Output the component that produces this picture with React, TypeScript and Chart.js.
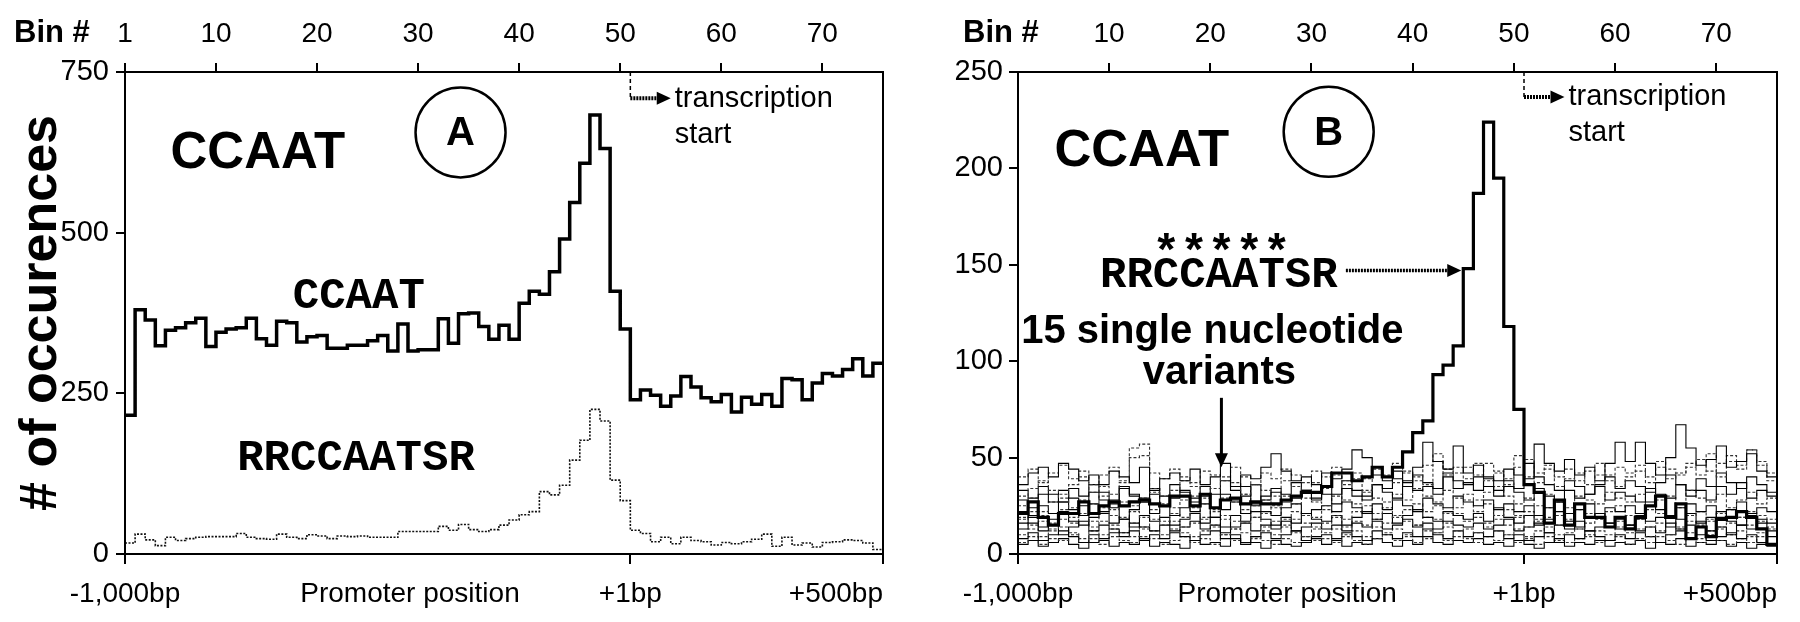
import { useEffect, useRef } from "react"
import { Chart, registerables } from "chart.js"

Chart.register(...registerables)

const SANS = '"Liberation Sans", Arial, sans-serif'
const MONO = '"Liberation Mono", "Courier New", monospace'

// 75 bins of 20 bp: -1,000bp .. +500bp (bin 51 starts at +1bp)
const BIN_COUNT = 75
const TOP_LABELS_A = [1, 10, 20, 30, 40, 50, 60, 70]
const TOP_LABELS_B = [10, 20, 30, 40, 50, 60, 70]
// first entry is an empty placeholder so "inner" alignment only right-aligns "+500bp"
const BOTTOM_LABELS = ["", "-1,000bp", "Promoter position", "+1bp", "+500bp"]
const BOTTOM_TICKS_A = [0, 0, 28.2, 50, 75]
const BOTTOM_TICKS_B = [0, 0, 26.6, 50, 75]
const Y_TICKS_A = [0, 250, 500, 750]
const Y_TICKS_B = [0, 50, 100, 150, 200, 250]

// panel A
const ccaatA = [
  216, 380, 364, 324, 348, 352, 360, 367, 323, 345, 350, 352, 367, 335, 325,
  362, 360, 330, 338, 340, 320, 320, 325, 325, 332, 340, 316, 358, 316, 318,
  318, 366, 328, 374, 375, 354, 334, 356, 334, 390, 409, 404, 439, 490, 547,
  608, 683, 631, 409, 350, 240, 255, 247, 230, 246, 276, 260, 243, 237, 248,
  221, 244, 233, 248, 230, 273, 271, 240, 266, 281, 277, 287, 304, 277, 297,
]
const rrccaatsrA = [
  17, 31, 22, 13, 26, 21, 24, 26, 27, 27, 27, 32, 26, 24, 23,
  31, 26, 24, 30, 28, 24, 28, 27, 28, 26, 26, 26, 35, 35, 35,
  35, 43, 37, 46, 38, 35, 38, 45, 53, 61, 66, 97, 92, 107, 146,
  177, 225, 207, 115, 83, 37, 32, 19, 26, 16, 26, 21, 19, 14, 18,
  16, 19, 23, 31, 12, 26, 14, 17, 11, 18, 19, 22, 21, 17, 7,
]

// panel B
const rrccaatsrB = [
  21, 27, 19, 15, 21, 21, 27, 21, 25, 27, 25, 27, 28, 26, 25,
  30, 30, 25, 31, 24, 28, 29, 26, 27, 26, 26, 28, 30, 32, 32,
  35, 42, 42, 38, 40, 45, 40, 45, 53, 63, 69, 93, 98, 108, 148,
  187, 224, 195, 118, 75, 36, 32, 16, 28, 15, 26, 19, 19, 14, 19,
  13, 19, 25, 30, 19, 26, 8, 14, 9, 18, 19, 22, 19, 13, 5,
]
const variant01 = [
  36, 42, 45, 40, 47, 44, 38, 41, 36, 43, 40, 37, 45, 33, 39,
  42, 38, 44, 36, 40, 47, 35, 41, 39, 45, 52, 43, 38, 40, 36,
  42, 39, 44, 54, 50, 41, 38, 43, 37, 45, 58, 48, 44, 56, 42,
  46, 40, 38, 44, 41, 39, 57, 47, 43, 49, 41, 45, 38, 47, 58,
  48, 58, 47, 41, 50, 67, 55, 46, 49, 56, 45, 48, 52, 43, 40,
]
const variant02 = [
  30, 34, 38, 33, 29, 36, 40, 32, 35, 31, 37, 50, 51, 34, 30,
  33, 38, 35, 29, 34, 40, 37, 31, 36, 33, 30, 38, 35, 32, 37,
  34, 41, 36, 39, 33, 45, 40, 37, 42, 38, 36, 48, 41, 45, 39,
  47, 38, 42, 36, 51, 40, 37, 44, 35, 39, 42, 36, 41, 38, 35,
  40, 43, 37, 45, 39, 42, 47, 41, 52, 40, 48, 44, 54, 46, 38,
]
const variant03 = [
  28, 24, 31, 27, 33, 29, 25, 32, 28, 26, 34, 30, 27, 31, 25,
  29, 33, 27, 30, 24, 31, 28, 35, 26, 30, 32, 27, 29, 33, 28,
  31, 26, 34, 30, 28, 36, 32, 29, 38, 33, 35, 31, 40, 34, 37,
  33, 39, 30, 35, 32, 28, 34, 30, 27, 33, 29, 31, 35, 28, 32,
  30, 27, 34, 31, 29, 36, 30, 33, 28, 35, 31, 37, 29, 33, 30,
]
const variant04 = [
  25, 29, 22, 27, 31, 24, 28, 26, 30, 23, 27, 25, 29, 32, 26,
  24, 28, 30, 26, 23, 29, 27, 31, 25, 28, 24, 30, 26, 29, 27,
  25, 30, 28, 26, 32, 29, 27, 31, 28, 34, 30, 27, 33, 29, 31,
  28, 32, 35, 30, 26, 29, 25, 31, 27, 24, 30, 28, 26, 32, 29,
  27, 31, 25, 28, 30, 26, 33, 29, 27, 31, 24, 28, 32, 26, 29,
]
const variant05 = [
  22, 19, 25, 21, 27, 23, 20, 26, 22, 24, 18, 23, 27, 21, 25,
  20, 24, 22, 26, 19, 23, 27, 21, 25, 22, 20, 24, 26, 21, 23,
  25, 22, 27, 24, 21, 26, 23, 28, 25, 22, 29, 26, 24, 30, 27,
  25, 28, 23, 26, 22, 25, 20, 24, 27, 21, 23, 26, 19, 24, 22,
  25, 21, 27, 23, 20, 24, 26, 22, 25, 19, 23, 27, 21, 24, 22,
]
const variant06 = [
  18, 22, 20, 16, 23, 19, 21, 17, 24, 20, 18, 22, 19, 23, 17,
  21, 19, 24, 18, 22, 20, 17, 23, 19, 21, 25, 18, 22, 20, 19,
  23, 20, 18, 22, 25, 21, 24, 19, 23, 26, 22, 25, 21, 24, 28,
  22, 26, 20, 23, 19, 22, 18, 24, 20, 17, 23, 21, 19, 22, 25,
  20, 18, 23, 21, 19, 24, 20, 22, 17, 21, 23, 19, 22, 20, 18,
]
const variant07 = [
  16, 20, 14, 18, 22, 17, 15, 19, 21, 16, 18, 14, 20, 17, 19,
  15, 18, 21, 16, 19, 14, 20, 17, 22, 18, 15, 19, 16, 21, 18,
  17, 20, 15, 19, 22, 18, 21, 16, 20, 23, 19, 17, 22, 20, 18,
  21, 17, 24, 19, 16, 20, 15, 18, 22, 17, 14, 19, 21, 16, 18,
  15, 20, 17, 19, 14, 18, 21, 16, 19, 22, 17, 15, 20, 18, 16,
]
const variant08 = [
  19, 15, 17, 13, 18, 16, 20, 14, 17, 15, 19, 16, 13, 18, 15,
  17, 14, 16, 19, 15, 18, 13, 16, 19, 14, 17, 15, 18, 16, 14,
  16, 19, 14, 17, 15, 18, 16, 20, 17, 15, 19, 18, 16, 21, 17,
  19, 16, 18, 15, 20, 14, 17, 19, 15, 18, 13, 16, 18, 14, 17,
  15, 18, 14, 16, 19, 13, 17, 15, 18, 14, 16, 19, 15, 17, 14,
]
const variant09 = [
  13, 16, 12, 15, 10, 14, 17, 12, 15, 13, 11, 16, 14, 12, 15,
  12, 14, 17, 13, 15, 11, 14, 16, 12, 15, 13, 17, 12, 14, 16,
  13, 15, 12, 16, 14, 17, 13, 15, 18, 14, 16, 13, 17, 15, 14,
  16, 13, 15, 18, 12, 14, 16, 11, 15, 13, 17, 12, 14, 16, 13,
  15, 12, 14, 11, 16, 13, 15, 17, 12, 14, 10, 15, 13, 16, 12,
]
const variant10 = [
  10, 13, 9, 12, 14, 11, 8, 12, 10, 13, 11, 9, 14, 12, 10,
  13, 11, 9, 12, 14, 10, 13, 11, 8, 12, 10, 14, 11, 9, 13,
  11, 13, 10, 12, 9, 14, 11, 13, 10, 15, 12, 11, 14, 12, 13,
  11, 14, 12, 10, 13, 9, 12, 14, 10, 11, 13, 9, 12, 10, 14,
  11, 13, 9, 12, 10, 14, 11, 8, 12, 13, 10, 12, 9, 11, 13,
]
const variant11 = [
  8, 11, 7, 10, 12, 9, 6, 10, 8, 11, 9, 12, 7, 10, 8,
  11, 9, 7, 10, 12, 8, 10, 6, 9, 11, 8, 10, 12, 7, 9,
  10, 8, 11, 9, 7, 12, 10, 8, 11, 9, 13, 10, 8, 12, 9,
  11, 9, 12, 8, 10, 7, 9, 11, 6, 10, 8, 12, 9, 7, 10,
  8, 11, 9, 6, 10, 12, 8, 10, 7, 9, 11, 8, 10, 6, 9,
]
const variant12 = [
  6, 9, 5, 8, 7, 10, 6, 8, 5, 9, 7, 6, 9, 8, 5,
  7, 9, 6, 8, 5, 10, 7, 6, 9, 7, 5, 8, 6, 9, 7,
  8, 6, 9, 7, 5, 8, 10, 7, 9, 6, 8, 11, 7, 9, 8,
  6, 9, 7, 10, 6, 8, 5, 9, 7, 6, 8, 10, 6, 7, 9,
  5, 8, 6, 9, 7, 5, 8, 6, 10, 7, 5, 8, 6, 9, 5,
]
const variant13 = [
  5, 7, 4, 6, 8, 5, 3, 6, 7, 4, 6, 5, 8, 4, 6,
  5, 3, 7, 5, 6, 4, 8, 5, 6, 3, 7, 5, 4, 6, 8,
  5, 7, 4, 6, 5, 8, 6, 4, 7, 5, 9, 6, 5, 7, 6,
  8, 5, 6, 4, 7, 5, 3, 6, 8, 4, 6, 5, 7, 4, 6,
  5, 7, 3, 6, 5, 8, 4, 6, 5, 7, 4, 6, 3, 5, 4,
]
const variant14 = [
  40, 44, 37, 42, 46, 39, 43, 36, 41, 45, 38, 55, 57, 42, 39,
  44, 40, 37, 43, 41, 38, 45, 40, 36, 42, 39, 44, 41, 37, 43,
  40, 45, 38, 42, 39, 44, 41, 47, 43, 40, 46, 52, 44, 42, 45,
  41, 47, 43, 39, 45, 49, 42, 46, 40, 44, 38, 43, 47, 41, 45,
  42, 46, 40, 48, 44, 41, 45, 49, 43, 47, 51, 46, 54, 48, 42,
]
const variant15 = [
  33, 29, 35, 31, 27, 34, 30, 36, 32, 28, 35, 31, 29, 34, 30,
  36, 32, 29, 35, 31, 38, 33, 30, 36, 28, 34, 31, 37, 33, 29,
  35, 31, 38, 33, 30, 36, 34, 39, 35, 41, 37, 34, 42, 38, 36,
  40, 35, 33, 38, 34, 47, 40, 36, 33, 38, 35, 31, 36, 40, 34,
  38, 35, 32, 37, 41, 36, 33, 39, 35, 42, 37, 34, 40, 36, 32,
]
const VARIANTS = [
  variant01, variant02, variant03, variant04, variant05,
  variant06, variant07, variant08, variant09, variant10,
  variant11, variant12, variant13, variant14, variant15,
]

// each bin value holds from its left edge to the next one
const toSteps = (vals: number[]) => [
  ...vals.map((y, i) => ({ x: i, y })),
  { x: vals.length, y: vals[vals.length - 1] },
]

type Note =
  | { kind: "text"; text: string; x: number; y: number; font: string; align?: CanvasTextAlign }
  | { kind: "circle"; text: string; x: number; y: number; r: number; font: string }
  | { kind: "arrow"; x1: number; y1: number; x2: number; y2: number; width: number; dash?: number[] }
  | { kind: "dash"; x: number; y1: number; y2: number }

// note positions are in data units (bin, count)
const NOTES_A: Note[] = [
  { kind: "text", text: "CCAAT", x: 4.5, y: 600, font: `bold 51px ${SANS}` },
  { kind: "circle", text: "A", x: 33.2, y: 656, r: 45, font: `bold 40px ${SANS}` },
  { kind: "dash", x: 50, y1: 750, y2: 709 },
  { kind: "arrow", x1: 50, y1: 709, x2: 54, y2: 709, width: 4, dash: [2, 1] },
  { kind: "text", text: "transcription", x: 54.4, y: 696, font: `29px ${SANS}` },
  { kind: "text", text: "start", x: 54.4, y: 639, font: `29px ${SANS}` },
  { kind: "text", text: "CCAAT", x: 16.6, y: 383, font: `bold 44px ${MONO}` },
  { kind: "text", text: "RRCCAATSR", x: 11.1, y: 131, font: `bold 44px ${MONO}` },
]
const NOTES_B: Note[] = [
  { kind: "text", text: "CCAAT", x: 3.6, y: 201, font: `bold 51px ${SANS}` },
  { kind: "circle", text: "B", x: 30.7, y: 219, r: 45, font: `bold 40px ${SANS}` },
  { kind: "dash", x: 50, y1: 250, y2: 237 },
  { kind: "arrow", x1: 50, y1: 237, x2: 54, y2: 237, width: 4, dash: [2, 1] },
  { kind: "text", text: "transcription", x: 54.4, y: 233, font: `29px ${SANS}` },
  { kind: "text", text: "start", x: 54.4, y: 214, font: `29px ${SANS}` },
  { kind: "text", text: "*****", x: 13.3, y: 149, font: `bold 46px ${MONO}` },
  { kind: "text", text: "RRCCAATSR", x: 8.1, y: 138.4, font: `bold 44px ${MONO}` },
  { kind: "arrow", x1: 32.4, y1: 147, x2: 43.8, y2: 147, width: 3.5, dash: [2, 1] },
  { kind: "text", text: "15 single nucleotide", x: 19.2, y: 109.3, font: `bold 40px ${SANS}`, align: "center" },
  { kind: "text", text: "variants", x: 19.9, y: 88, font: `bold 40px ${SANS}`, align: "center" },
  { kind: "arrow", x1: 20.1, y1: 81, x2: 20.1, y2: 45, width: 3 },
]

function makeNotesPlugin(notes: Note[], binDx: number) {
  return {
    id: "notes",
    afterDraw(chart: any) {
      const { ctx, chartArea: a, scales } = chart
      const px = (v: number) => scales.x.getPixelForValue(v)
      const py = (v: number) => scales.y.getPixelForValue(v)
      ctx.save()
      ctx.strokeStyle = "#000"
      ctx.fillStyle = "#000"
      ctx.lineWidth = 2
      ctx.strokeRect(a.left, a.top, a.right - a.left, a.bottom - a.top)

      ctx.font = `bold 31px ${SANS}`
      ctx.textAlign = "left"
      ctx.textBaseline = "alphabetic"
      ctx.fillText("Bin #", a.left + binDx, a.top - 30)

      for (const n of notes) {
        if (n.kind === "text") {
          ctx.font = n.font
          ctx.textAlign = n.align || "left"
          ctx.textBaseline = "alphabetic"
          ctx.fillText(n.text, px(n.x), py(n.y))
        } else if (n.kind === "circle") {
          ctx.lineWidth = 2.5
          ctx.beginPath()
          ctx.arc(px(n.x), py(n.y), n.r, 0, Math.PI * 2)
          ctx.stroke()
          ctx.font = n.font
          ctx.textAlign = "center"
          ctx.textBaseline = "middle"
          ctx.fillText(n.text, px(n.x), py(n.y) + 2)
        } else if (n.kind === "dash") {
          ctx.lineWidth = 1.5
          ctx.setLineDash([4, 3])
          ctx.beginPath()
          ctx.moveTo(px(n.x), py(n.y1))
          ctx.lineTo(px(n.x), py(n.y2))
          ctx.stroke()
          ctx.setLineDash([])
        } else {
          const x1 = px(n.x1), y1 = py(n.y1), x2 = px(n.x2), y2 = py(n.y2)
          const ang = Math.atan2(y2 - y1, x2 - x1)
          const head = 14
          ctx.lineWidth = n.width
          ctx.setLineDash(n.dash || [])
          ctx.beginPath()
          ctx.moveTo(x1, y1)
          ctx.lineTo(x2 - Math.cos(ang) * head * 0.8, y2 - Math.sin(ang) * head * 0.8)
          ctx.stroke()
          ctx.setLineDash([])
          ctx.beginPath()
          ctx.moveTo(x2, y2)
          ctx.lineTo(x2 - Math.cos(ang) * head - Math.sin(ang) * 6.5, y2 - Math.sin(ang) * head + Math.cos(ang) * 6.5)
          ctx.lineTo(x2 - Math.cos(ang) * head + Math.sin(ang) * 6.5, y2 - Math.sin(ang) * head - Math.cos(ang) * 6.5)
          ctx.closePath()
          ctx.fill()
        }
      }
      ctx.restore()
    },
  }
}

type PanelProps = {
  left: number
  datasets: any[]
  yMax: number
  yTicks: number[]
  topLabels: number[]
  bottomTicks: number[]
  yWidth: number
  yPad: number
  padRight: number
  yTitle?: string
  notes: Note[]
  binDx: number
}

function Panel(props: PanelProps) {
  const chartRef = useRef<HTMLCanvasElement>(null)
  const chartInstance = useRef<Chart | null>(null)

  useEffect(() => {
    if (!chartRef.current) return
    if (chartInstance.current) chartInstance.current.destroy()

    const axisGrid = { drawOnChartArea: false, lineWidth: 2, color: "#000" }
    const axisBorder = { display: true, width: 2, color: "#000" }
    const topValues = props.topLabels.map((b) => b - 1)

    chartInstance.current = new Chart(chartRef.current, {
      type: "line",
      data: { datasets: props.datasets },
      options: {
        responsive: false,
        animation: false,
        events: [],
        layout: { padding: { left: 0, right: props.padRight, top: 0, bottom: 0 } },
        plugins: { legend: { display: false }, tooltip: { enabled: false } },
        scales: {
          x: {
            type: "linear",
            position: "bottom",
            min: 0,
            max: BIN_COUNT,
            afterBuildTicks: (s: any) => {
              s.ticks = props.bottomTicks.map((value) => ({ value }))
            },
            afterFit: (s: any) => {
              s.height = 68
            },
            ticks: {
              autoSkip: false,
              maxRotation: 0,
              minRotation: 0,
              align: "inner",
              padding: 13,
              color: "#000",
              font: { size: 28, family: SANS },
              callback: (_v: any, i: number) => BOTTOM_LABELS[i],
            },
            grid: {
              ...axisGrid,
              tickLength: 10,
              tickColor: (c: any) => (c.index === 2 ? "rgba(0,0,0,0)" : "#000"),
            },
            border: axisBorder,
          },
          x2: {
            type: "linear",
            position: "top",
            min: 0,
            max: BIN_COUNT,
            afterBuildTicks: (s: any) => {
              s.ticks = topValues.map((value) => ({ value }))
            },
            afterFit: (s: any) => {
              s.height = 72
            },
            ticks: {
              autoSkip: false,
              maxRotation: 0,
              minRotation: 0,
              padding: 12,
              color: "#000",
              font: { size: 28, family: SANS },
              callback: (_v: any, i: number) => String(props.topLabels[i]),
            },
            grid: { ...axisGrid, tickLength: 9 },
            border: axisBorder,
          },
          y: {
            min: 0,
            max: props.yMax,
            afterBuildTicks: (s: any) => {
              s.ticks = props.yTicks.map((value) => ({ value }))
            },
            afterFit: (s: any) => {
              s.width = props.yWidth
            },
            ticks: { padding: props.yPad, color: "#000", font: { size: 29, family: SANS } },
            grid: { ...axisGrid, tickLength: 9 },
            border: axisBorder,
            title: props.yTitle
              ? {
                  display: true,
                  text: props.yTitle,
                  color: "#000",
                  font: { size: 52, weight: "bold", family: SANS },
                  padding: { top: 10, bottom: 0 },
                }
              : { display: false },
          },
        },
      } as any,
      plugins: [makeNotesPlugin(props.notes, props.binDx)],
    })

    return () => {
      if (chartInstance.current) {
        chartInstance.current.destroy()
        chartInstance.current = null
      }
    }
  }, [])

  return (
    <canvas
      ref={chartRef}
      width={900}
      height={622}
      style={{ position: "absolute", left: props.left, top: 0, width: 900, height: 622 }}
    />
  )
}

const stepLine = (label: string, vals: number[], width: number, dash: number[] = [], color = "#000") => ({
  label,
  data: toSteps(vals),
  stepped: true,
  borderColor: color,
  borderWidth: width,
  borderDash: dash,
  pointRadius: 0,
  fill: false,
  borderJoinStyle: "miter",
})

export default function App() {
  const datasetsA = [
    stepLine("CCAAT", ccaatA, 3.5),
    stepLine("RRCCAATSR", rrccaatsrA, 1.6, [2, 1.5], "#111"),
  ]
  const datasetsB = [
    stepLine("RRCCAATSR", rrccaatsrB, 3.2),
    ...VARIANTS.map((v, i) =>
      i % 2 === 0
        ? stepLine(`variant ${i + 1}`, v, 1.1, [], "#000")
        : stepLine(`variant ${i + 1}`, v, 1.1, [3, 2], "#333"),
    ),
  ]

  return (
    <div
      style={{
        position: "absolute",
        left: 0,
        top: 0,
        width: 1800,
        height: 622,
        background: "#fff",
        overflow: "hidden",
        fontFamily: SANS,
      }}
    >
      <Panel
        left={0}
        datasets={datasetsA}
        yMax={750}
        yTicks={Y_TICKS_A}
        topLabels={TOP_LABELS_A}
        bottomTicks={BOTTOM_TICKS_A}
        yWidth={125}
        yPad={7}
        padRight={17}
        yTitle="# of occurences"
        notes={NOTES_A}
        binDx={-111}
      />
      <Panel
        left={900}
        datasets={datasetsB}
        yMax={250}
        yTicks={Y_TICKS_B}
        topLabels={TOP_LABELS_B}
        bottomTicks={BOTTOM_TICKS_B}
        yWidth={118}
        yPad={6}
        padRight={23}
        notes={NOTES_B}
        binDx={-55}
      />
    </div>
  )
}
